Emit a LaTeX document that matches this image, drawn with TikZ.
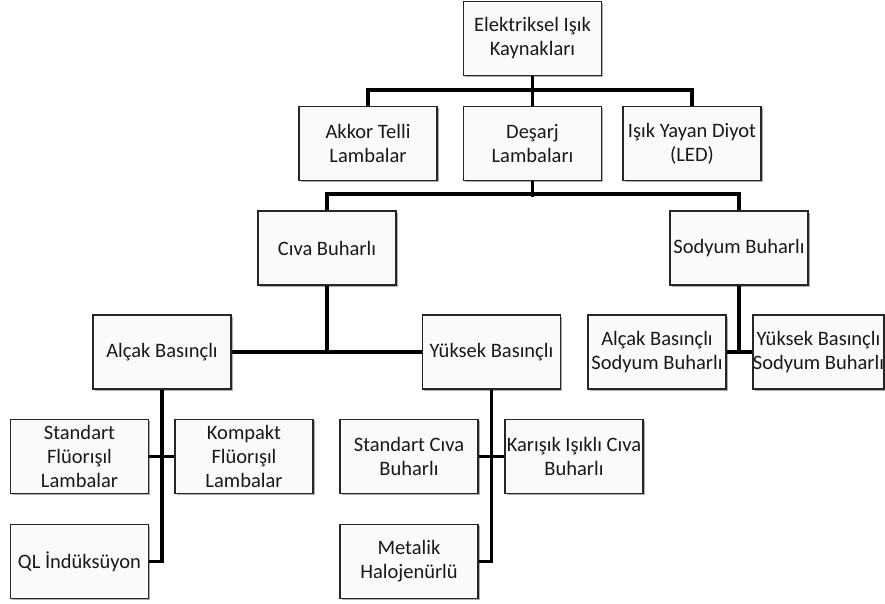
\documentclass[tikz,border=0pt]{standalone}
\usepackage{fontspec}
\setmainfont{Carlito}
\usepackage{tikz}
\usetikzlibrary{shadows}

\tikzset{
  kutu/.style={draw=black!85, line width=1.4pt, fill=white!98!black,
    minimum width=138pt, minimum height=74pt, inner sep=0pt, align=center,
    text=black!90, font=\fontsize{20.5}{24}\selectfont,
    drop shadow={shadow xshift=1.6pt, shadow yshift=-1.6pt, opacity=0.45, fill=black!70}},
  bag/.style={line width=3.8pt, black}
}

\begin{document}
\begin{tikzpicture}[x=1pt, y=-1pt]
\useasboundingbox (0,0) rectangle (885,603);
\node[kutu] (elk)    at (532.5, 38.5) {Elektriksel Işık\\Kaynakları};
\node[kutu] (akkor)  at (368, 143.5)  {Akkor Telli\\Lambalar};
\node[kutu] (desarj) at (532.5, 143.5) {Deşarj\\Lambaları};
\node[kutu] (led)    at (692, 143.5)  {Işık Yayan Diyot\\(LED)};
\node[kutu] (civa)   at (327, 248)    {Cıva Buharlı};
\node[kutu] (sodyum) at (739, 248)    {Sodyum Buharlı};
\node[kutu] (alcak)  at (162, 352)    {Alçak Basınçlı};
\node[kutu] (yuksek) at (491.5, 352)  {Yüksek Basınçlı};
\node[kutu] (alcaksod) at (657, 352)  {Alçak Basınçlı\\Sodyum Buharlı};
\node[kutu, minimum width=131pt] (yuksod) at (818.5, 352) {Yüksek Basınçlı\\Sodyum Buharlı};
\node[kutu] (stdflu)  at (79.5, 456.5) {Standart\\Flüorışıl\\Lambalar};
\node[kutu] (kompakt) at (244, 456.5)  {Kompakt\\Flüorışıl\\Lambalar};
\node[kutu] (ql)      at (79.5, 561.5) {QL İndüksüyon};
\node[kutu] (stdciva) at (409, 456.5)  {Standart Cıva\\Buharlı};
\node[kutu] (karisik) at (574, 456.5)  {Karışık Işıklı Cıva\\Buharlı};
\node[kutu] (metalik) at (409, 561.5)  {Metalik\\Halojenürlü};

\draw[bag] (akkor.north) -- ++(0,-16) -| (led.north);
\draw[bag] (elk.south) -- (desarj.north);
\draw[bag] (civa.north) -- ++(0,-16) -| (sodyum.north);
\draw[bag] (desarj.south) -- ++(0,16);
\draw[bag] (civa.south) -- (civa.south |- alcak.east);
\draw[bag] (alcak.east) -- (yuksek.west);
\draw[bag] (sodyum.south) -- (sodyum.south |- alcaksod.east);
\draw[bag] (alcaksod.east) -- (yuksod.west);
\draw[bag] (alcak.south) |- (ql.east);
\draw[bag] (stdflu.east) -- (kompakt.west);
\draw[bag] (yuksek.south) |- (metalik.east);
\draw[bag] (stdciva.east) -- (karisik.west);
\end{tikzpicture}
\end{document}
